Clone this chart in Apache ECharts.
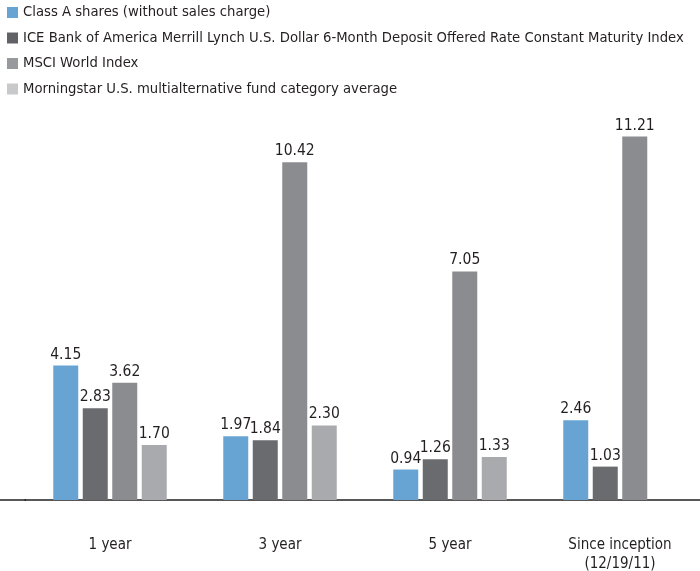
<!DOCTYPE html>
<html><head><meta charset="utf-8">
<script src="https://cdn.jsdelivr.net/npm/echarts@6/dist/echarts.min.js"></script>
<style>html,body{margin:0;padding:0;background:#fff}#c{width:700px;height:571px}</style>
</head><body><div id="c"></div>
<script>
var categories = ['1 year', '3 year', '5 year', 'Since inception\n(12/19/11)'];
var seriesNames = ['Class A shares (without sales charge)',
  'ICE Bank of America Merrill Lynch U.S. Dollar 6-Month Deposit Offered Rate Constant Maturity Index',
  'MSCI World Index',
  'Morningstar U.S. multialternative fund category average'];
var classA = [4.15, 1.97, 0.94, 2.46];
var iceBofA = [2.83, 1.84, 1.26, 1.03];
var msciWorld = [3.62, 10.42, 7.05, 11.21];
var morningstar = [1.70, 2.30, 1.33, null];
var colors = ['#67a4d3', '#6a6b6f', '#8b8c90', '#a9aaae'];
var legendColors = ['#67a4d3', '#616265', '#98999c', '#c8c9cb'];

var FONT = '"Liberation Sans Narrow", "DejaVu Sans Condensed", sans-serif';
var chart = echarts.init(document.getElementById('c'));
var data = [classA, iceBofA, msciWorld, morningstar];
var series = data.map(function (d, i) {
  return {
    name: seriesNames[i], type: 'bar', data: d,
    barWidth: 25, barGap: '18%',
    itemStyle: { color: colors[i] },
    label: { show: true, position: 'top', distance: 3, color: '#231f20', fontFamily: FONT, fontSize: 15.5,
      formatter: function (p) { return p.value == null ? '' : p.value.toFixed(2); } }
  };
});
chart.setOption({
  animation: false,
  legend: {
    orient: 'vertical', left: 2, top: 0, itemWidth: 11, itemHeight: 11, itemGap: 10.5,
    icon: 'rect',
    textStyle: { fontFamily: FONT, fontSize: 14.7, color: '#231f20' },
    data: seriesNames.map(function (n, i) { return { name: n, itemStyle: { color: legendColors[i] } }; })
  },
  grid: { left: 25, right: -5, top: 111, bottom: 71, outerBoundsMode: 'none', containLabel: false },
  xAxis: {
    type: 'category', data: categories,
    axisLine: { lineStyle: { color: '#231f20', width: 1.5 } },
    axisTick: { show: false },
    axisLabel: { margin: 36, color: '#231f20', fontFamily: FONT, fontSize: 15, lineHeight: 19 }
  },
  yAxis: { type: 'value', min: 0, max: 12, show: false, splitLine: { show: false } },
  graphic: [{ type: 'line', shape: { x1: 0, y1: 500, x2: 26, y2: 500 }, style: { stroke: '#231f20', lineWidth: 1.5 } }],
  series: series
});
</script></body></html>
